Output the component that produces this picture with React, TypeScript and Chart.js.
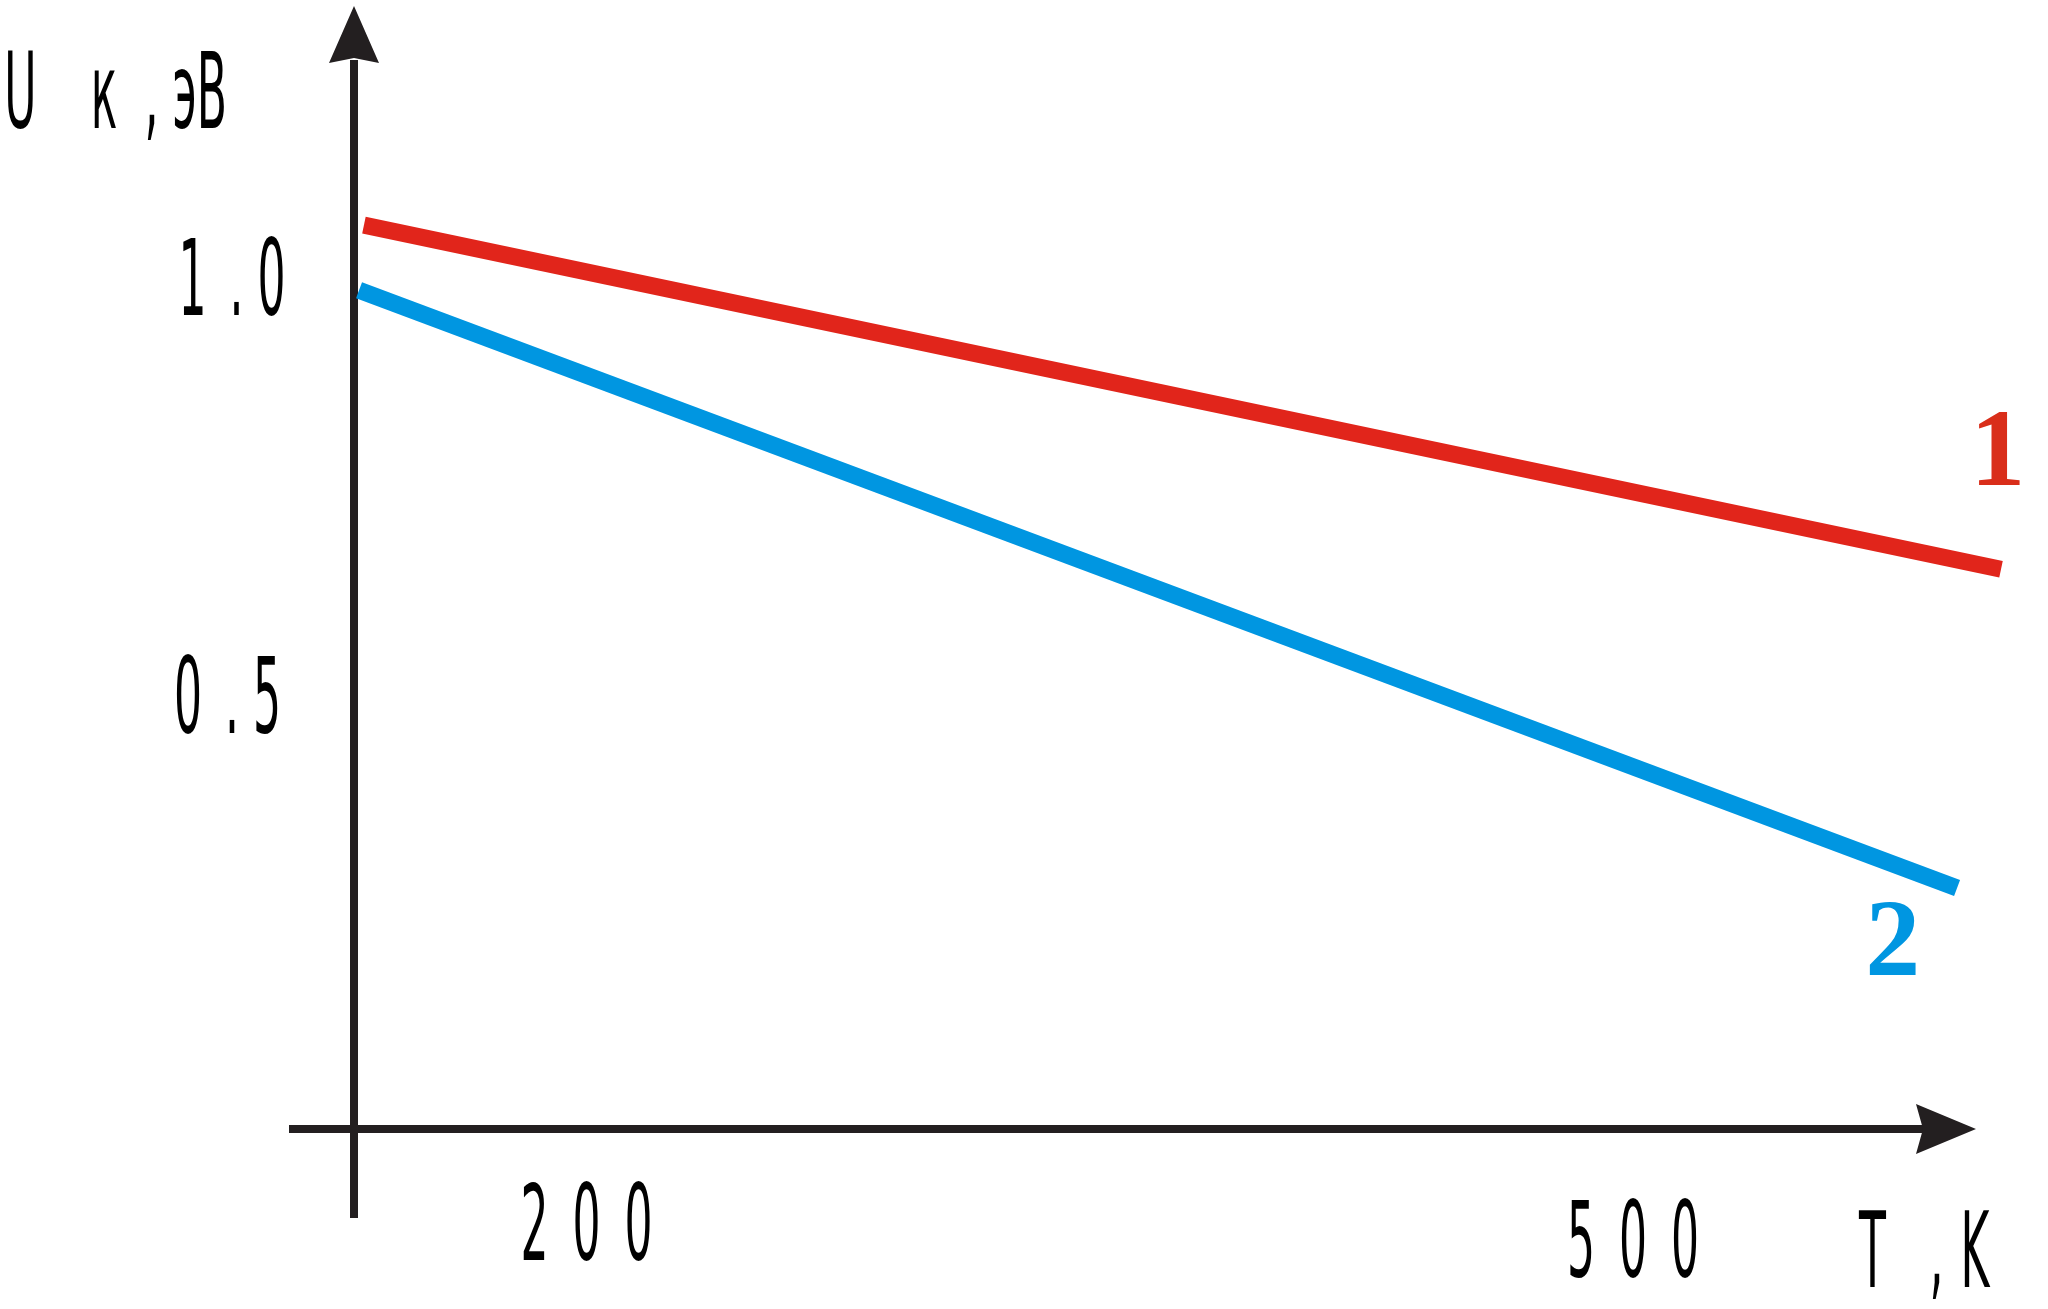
import React, { useEffect, useRef } from "react";
import { Chart, registerables } from "chart.js";

Chart.register(...registerables);

// ---- data ----
const SERIES_NAMES = ["1", "2"];
const T_SERIES_1 = [136.2, 605.5];
const U_SERIES_1 = [1.062, 0.65];
const T_SERIES_2 = [134.8, 592.9];
const U_SERIES_2 = [0.984, 0.2685];
const SERIES_LABEL_T = [604.6, 574.5];
const SERIES_LABEL_U = [0.751, 0.164];
const X_TICKS = [200, 500];
const X_TICK_LABELS = ["200", "500"];
const Y_TICKS = [0.5, 1.0];
const Y_TICK_LABELS = ["0.5", "1.0"];
const Y_TITLE = "Uк,эВ";
const X_TITLE = "T,K";

// ---- styles / layout ----
const X_MIN = 133.35;
const X_MAX = 582.85;
const Y_MIN = -0.02;
const Y_MAX = 1.25;
const COLOR_1 = "#E1251B";
const COLOR_1_LABEL = "#D92E1A";
const COLOR_2 = "#0096E1";
const AXIS_COLOR = "#231F20";
const TEXT_FONT = '105px "DejaVu Sans"';
const TEXT_SCALE_X = 0.42;
const LABEL_FONT = 'bold 110px "Liberation Serif"';
const LINE_WIDTH = 17;
const X_TICK_CHAR_OFFSETS = [-52, 0, 52];
const X_TICK_BASELINE_OFFSETS = [131, 148];
const Y_TICK_CHAR_OFFSETS = [-79, -35, 0];
const Y_TICK_RIGHT_CENTER = [267, 271.5];
const Y_TICK_BASELINE_SHIFT = 38.5;
const Y_TITLE_CENTERS = [20.5, 104, 151.5, 184.5, 212];
const Y_TITLE_BASELINE = 128;
const X_TITLE_CENTERS = [1872.5, 1936.5, 1975];
const X_TITLE_BASELINE = 1287;

function drawCondensedChar(
  ctx: CanvasRenderingContext2D,
  ch: string,
  cx: number,
  baseline: number
) {
  ctx.save();
  ctx.translate(cx, baseline);
  ctx.scale(TEXT_SCALE_X, 1);
  ctx.font = TEXT_FONT;
  ctx.textAlign = "center";
  ctx.textBaseline = "alphabetic";
  ctx.fillStyle = "#000";
  ctx.fillText(ch, 0, 0);
  ctx.restore();
}

const decorPlugin = {
  id: "decor",
  beforeDatasetsDraw(chart: any) {
    const ctx: CanvasRenderingContext2D = chart.ctx;
    const { left, right, top, bottom } = chart.chartArea;
    ctx.save();
    ctx.strokeStyle = AXIS_COLOR;
    ctx.fillStyle = AXIS_COLOR;
    ctx.lineWidth = 8;
    ctx.lineCap = "butt";
    // vertical axis
    ctx.beginPath();
    ctx.moveTo(left, bottom + 89);
    ctx.lineTo(left, top - 8);
    ctx.stroke();
    ctx.beginPath();
    ctx.moveTo(left, top - 62);
    ctx.lineTo(left + 25, top - 5);
    ctx.lineTo(left, top - 10);
    ctx.lineTo(left - 25, top - 5);
    ctx.closePath();
    ctx.fill();
    // horizontal axis
    ctx.beginPath();
    ctx.moveTo(left - 65, bottom);
    ctx.lineTo(right + 4, bottom);
    ctx.stroke();
    ctx.beginPath();
    ctx.moveTo(right + 54, bottom);
    ctx.lineTo(right - 6, bottom - 25);
    ctx.lineTo(right + 1, bottom);
    ctx.lineTo(right - 6, bottom + 25);
    ctx.closePath();
    ctx.fill();
    ctx.restore();
  },
  afterDatasetsDraw(chart: any) {
    const ctx: CanvasRenderingContext2D = chart.ctx;
    const xs = chart.scales.x;
    const ys = chart.scales.y;
    const { bottom } = chart.chartArea;
    // x tick labels
    X_TICKS.forEach((v, i) => {
      const px = xs.getPixelForValue(v);
      const chars = X_TICK_LABELS[i].split("");
      chars.forEach((ch, j) => {
        drawCondensedChar(ctx, ch, px + X_TICK_CHAR_OFFSETS[j], bottom + X_TICK_BASELINE_OFFSETS[i]);
      });
    });
    // y tick labels
    Y_TICKS.forEach((v, i) => {
      const py = ys.getPixelForValue(v);
      const chars = Y_TICK_LABELS[i].split("");
      chars.forEach((ch, j) => {
        drawCondensedChar(ctx, ch, Y_TICK_RIGHT_CENTER[i] + Y_TICK_CHAR_OFFSETS[j], py + Y_TICK_BASELINE_SHIFT);
      });
    });
    // axis titles
    Y_TITLE.split("").forEach((ch, j) => {
      drawCondensedChar(ctx, ch, Y_TITLE_CENTERS[j], Y_TITLE_BASELINE);
    });
    X_TITLE.split("").forEach((ch, j) => {
      drawCondensedChar(ctx, ch, X_TITLE_CENTERS[j], X_TITLE_BASELINE);
    });
    // series labels
    ctx.save();
    ctx.font = LABEL_FONT;
    ctx.textAlign = "center";
    ctx.textBaseline = "alphabetic";
    SERIES_NAMES.forEach((name, i) => {
      ctx.fillStyle = i === 0 ? COLOR_1_LABEL : COLOR_2;
      ctx.fillText(name, xs.getPixelForValue(SERIES_LABEL_T[i]), ys.getPixelForValue(SERIES_LABEL_U[i]));
    });
    ctx.restore();
  },
};

export default function App() {
  const canvasRef = useRef<HTMLCanvasElement | null>(null);

  useEffect(() => {
    const canvas = canvasRef.current;
    if (!canvas) return;
    const chart = new Chart(canvas, {
      type: "scatter",
      data: {
        datasets: [
          {
            label: SERIES_NAMES[0],
            data: T_SERIES_1.map((t, i) => ({ x: t, y: U_SERIES_1[i] })),
            showLine: true,
            borderColor: COLOR_1,
            backgroundColor: COLOR_1,
            borderWidth: LINE_WIDTH,
            borderCapStyle: "butt",
            pointRadius: 0,
            pointHoverRadius: 0,
            clip: false,
          } as any,
          {
            label: SERIES_NAMES[1],
            data: T_SERIES_2.map((t, i) => ({ x: t, y: U_SERIES_2[i] })),
            showLine: true,
            borderColor: COLOR_2,
            backgroundColor: COLOR_2,
            borderWidth: LINE_WIDTH,
            borderCapStyle: "butt",
            pointRadius: 0,
            pointHoverRadius: 0,
            clip: false,
          } as any,
        ],
      },
      options: {
        responsive: false,
        animation: false,
        devicePixelRatio: 1,
        events: [],
        layout: { padding: { left: 354, right: 126, top: 68, bottom: 180 } },
        scales: {
          x: { type: "linear", min: X_MIN, max: X_MAX, display: false },
          y: { type: "linear", min: Y_MIN, max: Y_MAX, display: false },
        },
        plugins: {
          legend: { display: false },
          tooltip: { enabled: false },
        },
      },
      plugins: [decorPlugin],
    });
    return () => chart.destroy();
  }, []);

  return (
    <div style={{ position: "absolute", left: 0, top: 0, width: 2048, height: 1309, background: "#fff" }}>
      <canvas ref={canvasRef} width={2048} height={1309} style={{ display: "block" }} />
    </div>
  );
}
